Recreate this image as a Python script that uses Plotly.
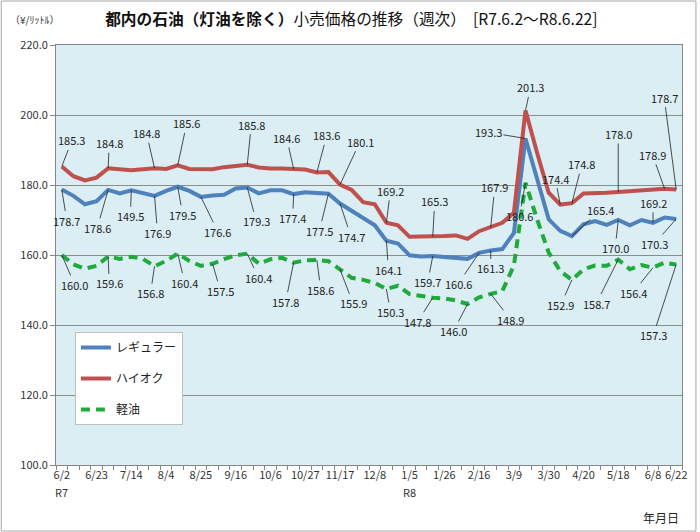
import plotly.graph_objects as go

# ---------------- data ----------------
tick_idx = [0, 3, 6, 9, 12, 15, 18, 21, 24, 27, 30, 33, 36, 39, 42, 45, 48, 51, 53]
tick_text = ["6/2", "6/23", "7/14", "8/4", "8/25", "9/16", "10/6", "10/27", "11/17",
             "12/8", "1/5", "1/26", "2/16", "3/9", "3/30", "4/20", "5/18", "6/8", "6/22"]
era_idx = [0, 30]
era_text = ["R7", "R8"]

regular = [178.7, 176.9, 174.5, 175.4, 178.6, 177.6, 178.5, 177.8, 176.9, 178.3,
           179.5, 178.3, 176.6, 177.0, 177.2, 179.0, 179.3, 177.6, 178.5, 178.5,
           177.4, 177.9, 177.6, 177.5, 174.7, 172.6, 170.4, 168.5, 164.1, 163.3,
           159.9, 159.6, 159.7, 159.5, 159.2, 158.9, 160.6, 161.3, 161.7, 166.3,
           193.3, 181.6, 170.2, 166.9, 165.4, 168.8, 169.7, 168.6, 170.0, 168.5,
           170.0, 169.2, 170.7, 170.3]

highoctane = [185.3, 182.5, 181.3, 182.1, 184.8, 184.5, 184.2, 184.5, 184.8, 184.6,
              185.6, 184.6, 184.5, 184.5, 185.1, 185.4, 185.8, 185.0, 184.7, 184.7,
              184.6, 184.4, 183.6, 183.7, 180.1, 178.6, 175.1, 174.5, 169.2, 168.5,
              165.2, 165.2, 165.3, 165.4, 165.6, 164.6, 166.8, 167.9, 169.2, 172.1,
              201.3, 189.2, 177.8, 174.4, 174.8, 177.6, 177.6, 177.8, 178.0, 178.2,
              178.4, 178.6, 178.9, 178.7]

diesel = [160.0, 157.3, 156.1, 156.9, 159.6, 158.9, 159.5, 158.9, 156.8, 158.3,
          160.4, 158.3, 156.9, 157.5, 158.8, 159.9, 160.4, 157.5, 158.8, 159.2,
          157.8, 158.5, 158.6, 158.2, 155.9, 153.5, 152.9, 152.0, 150.3, 151.2,
          148.8, 148.2, 147.8, 147.6, 147.0, 146.0, 147.9, 148.9, 149.7, 157.0,
          180.6, 170.2, 160.7, 155.4, 152.9, 155.9, 157.0, 156.9, 158.7, 155.9,
          157.1, 156.4, 157.8, 157.3]

# labelled points (index, text)
reg_lab_idx = [0, 4, 6, 8, 10, 12, 16, 20, 23, 24, 28, 32, 36, 37, 40, 44, 48, 51, 53]
reg_lab_txt = ["178.7", "178.6", "149.5", "176.9", "179.5", "176.6", "179.3", "177.4", "177.5",
               "174.7", "164.1", "159.7", "160.6", "161.3", "193.3", "165.4", "170.0", "169.2", "170.3"]
hi_lab_idx = [0, 4, 8, 10, 16, 20, 22, 24, 28, 32, 37, 40, 43, 44, 48, 52, 53]
hi_lab_txt = ["185.3", "184.8", "184.8", "185.6", "185.8", "184.6", "183.6", "180.1", "169.2",
              "165.3", "167.9", "201.3", "174.4", "174.8", "178.0", "178.9", "178.7"]
di_lab_idx = [0, 4, 8, 10, 13, 16, 20, 22, 24, 28, 32, 35, 37, 40, 44, 48, 51, 53]
di_lab_txt = ["160.0", "159.6", "156.8", "160.4", "157.5", "160.4", "157.8", "158.6", "155.9",
              "150.3", "147.8", "146.0", "148.9", "180.6", "152.9", "158.7", "156.4", "157.3"]

# ---------------- styles ----------------
reg_off = [(5, 31), (-11, 38), (-1, 26), (3, 37), (5, 28), (17, 35), (9, 34), (-1, 24), (-9, 37),
           (11, 33), (2, 29), (-5, 26), (-21, 31), (0, 18), (-37, -6), (29, -26), (-3, 28), (0, -20), (-22, 25)]
hi_off = [(10, -26), (1, -25), (-8, -35), (9, -42), (4, -40), (-7, -31), (10, -37), (20, -43), (4, -32),
          (2, -35), (4, -40), (5, -23), (-5, -26), (10, -39), (0, -58), (-12, -34), (-12, -92)]
di_off = [(13, 30), (1, 27), (-4, 27), (7, 29), (8, 27), (11, 24), (-8, 39), (4, 30), (13, 34),
          (4, 23), (-15, 24), (-14, 27), (20, 26), (-6, 33), (-11, 25), (-22, 44), (-20, 25), (-23, 71)]

C_REG = "#4F81BD"
C_HI = "#C0504D"
C_DI = "#1FAA3C"
FONT = "Noto Sans CJK JP"

x = list(range(len(regular)))

fig = go.Figure()
fig.add_trace(go.Scatter(x=x, y=regular, mode="lines", name="レギュラー", legendgroup="a",
                         line=dict(color=C_REG, width=4)))
fig.add_trace(go.Scatter(x=x, y=highoctane, mode="lines", name="ハイオク", legendgroup="b",
                         line=dict(color=C_HI, width=4)))
fig.add_trace(go.Scatter(x=x, y=diesel, mode="lines", name="軽油", legendgroup="c",
                         line=dict(color=C_DI, width=4, dash="9px,6px")))

ann = []
for series, idxs, txts, offs in [(regular, reg_lab_idx, reg_lab_txt, reg_off),
                                 (highoctane, hi_lab_idx, hi_lab_txt, hi_off),
                                 (diesel, di_lab_idx, di_lab_txt, di_off)]:
    for i, t, (dx, dy) in zip(idxs, txts, offs):
        ann.append(dict(x=i, y=series[i], xref="x", yref="y", text=t, showarrow=True,
                        arrowhead=0, arrowwidth=0.8, arrowcolor="#222", ax=dx, ay=dy,
                        standoff=0, font=dict(family=FONT, size=11, color="#222")))

for i, t in zip(era_idx, era_text):
    ann.append(dict(x=i, xref="x", yref="paper", y=(465 - 492) / 420, text=t,
                    showarrow=False, xanchor="center", yanchor="middle",
                    font=dict(family=FONT, size=11, color="#333")))

ann.append(dict(xref="paper", yref="paper", x=(8 - 56) / 629, y=(465 - 20) / 420,
                xanchor="left", yanchor="middle", showarrow=False,
                text="（¥/ﾘｯﾄﾙ）", font=dict(family=FONT, size=10, color="#333")))
ann.append(dict(xref="paper", yref="paper", x=(684 - 56) / 629, y=(465 - 517) / 420,
                xanchor="right", yanchor="middle", showarrow=False,
                text="年月日", font=dict(family=FONT, size=12, color="#222")))

fig.update_layout(
    width=700, height=532,
    margin=dict(l=56, r=15, t=45, b=67),
    paper_bgcolor="white",
    plot_bgcolor="#DAEEF3",
    font=dict(family=FONT, size=11, color="#333"),
    title=dict(text="<b>都内の石油（灯油を除く）</b>小売価格の推移（週次）  [R7.6.2～R8.6.22]",
               xref="container", yref="container", x=0.502, y=1 - 20 / 532,
               xanchor="center", yanchor="middle",
               font=dict(family=FONT, size=15.7, color="#111")),
    showlegend=True,
    legend=dict(x=(75 - 56) / 629, y=(465 - 332) / 420, xanchor="left", yanchor="top",
                bgcolor="white", bordercolor="#BFBFBF", borderwidth=1,
                traceorder="grouped", tracegroupgap=12,
                font=dict(family=FONT, size=12, color="#222")),
    annotations=ann,
    shapes=[dict(type="rect", xref="paper", yref="paper",
                 x0=(1 - 56) / 629, x1=(699 - 56) / 629,
                 y0=(465 - 531) / 420, y1=(465 - 1) / 420,
                 line=dict(color="#A6A6A6", width=1), fillcolor="rgba(0,0,0,0)", layer="below")],
)

fig.update_xaxes(range=[-0.5, len(regular) - 0.5], tickmode="array", tickvals=tick_idx,
                 ticktext=tick_text, ticks="", showgrid=False, zeroline=False,
                 showline=True, linecolor="#868686", linewidth=1, mirror=True,
                 tickfont=dict(family=FONT, size=11, color="#333"),
                 minor=dict(tickmode="linear", tick0=-0.5, dtick=1, ticks="outside",
                            ticklen=4, tickcolor="#868686", showgrid=False))
fig.update_yaxes(range=[100, 220], dtick=20, tickformat=".1f", showgrid=True,
                 gridcolor="#8C8C8C", gridwidth=1, zeroline=False,
                 showline=True, linecolor="#868686", linewidth=1, mirror=True,
                 ticks="outside", ticklen=5, tickcolor="#868686",
                 tickfont=dict(family=FONT, size=11, color="#333"))

fig.write_html("out.html")
